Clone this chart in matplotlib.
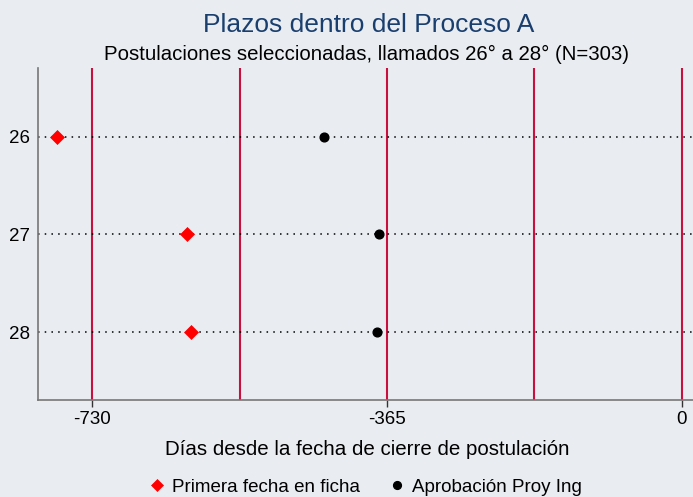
import matplotlib
matplotlib.use("Agg")
import matplotlib.pyplot as plt
from matplotlib.lines import Line2D

plt.rcParams['font.family'] = ['Liberation Sans', 'DejaVu Sans']

llamados = [26, 27, 28]
primera_fecha = [-773, -612, -607]
aprobacion = [-443, -375, -377]
xticks = [-730, -365, 0]
xticklabels = ["-730", "-365", "0"]
vlines = [-730, -547.5, -365, -182.5, 0]

W, H = 693, 497
bg = "#E9EDF1"
red = "#FF0000"
fig = plt.figure(figsize=(W/100, H/100), dpi=100, facecolor=bg)
ax = fig.add_axes([38/W, 1-400/H, (698-38)/W, (400-68)/H])
ax.set_facecolor(bg)

for v in vlines:
    ax.axvline(v, color="#C8103E", lw=1.5, zorder=1)
for y in llamados:
    ax.axhline(y, color="black", lw=1.1, ls=(0, (1, 3.4)), zorder=1)

ax.plot(primera_fecha, llamados, ls="none", marker="D", ms=7.2, color=red,
        mec=red, mew=0.5, zorder=3)
ax.plot(aprobacion, llamados, ls="none", marker="o", ms=6.3, color="black",
        mew=1, zorder=3)

ax.set_xlim(-797, 20)
ax.set_ylim(28.696, 25.297)
ax.set_xticks(xticks)
ax.set_xticklabels(xticklabels)
ax.set_yticks(llamados)
ax.set_yticklabels([str(v) for v in llamados])
ax.tick_params(axis="x", length=5, width=1, color="#333333", labelsize=13.5, pad=3)
ax.tick_params(axis="y", length=0, labelsize=13.5, pad=5.4)
for s in ["top", "right"]:
    ax.spines[s].set_visible(False)
for s in ["left", "bottom"]:
    ax.spines[s].set_color("#777777")
    ax.spines[s].set_linewidth(1.2)

cx = 367/W
fig.text(cx, 1-455/H, "Días desde la fecha de cierre de postulación", ha="center",
         va="baseline", fontsize=14.75, color="black")
fig.text(369/W, 1-31.5/H, "Plazos dentro del Proceso A", ha="center", va="baseline",
         fontsize=19, color="#1A3F6F")
fig.text(cx, 1-60/H, "Postulaciones seleccionadas, llamados 26° a 28° (N=303)",
         ha="center", va="baseline", fontsize=14.7, color="black")

handles = [
    Line2D([], [], ls="none", marker="D", ms=6.6, color=red, mec=red, mew=0.5),
    Line2D([], [], ls="none", marker="o", ms=5.6, color="black"),
]
labels = ["Primera fecha en ficha", "Aprobación Proy Ing"]
fig.legend(handles, labels, loc="center", bbox_to_anchor=(364.5/W, 1-487/H), ncol=2,
           frameon=False, fontsize=13.5, handletextpad=0.3, columnspacing=1.47,
           handlelength=1.0, borderpad=0, borderaxespad=0)

fig.savefig("out.png", dpi=100, facecolor=bg)
